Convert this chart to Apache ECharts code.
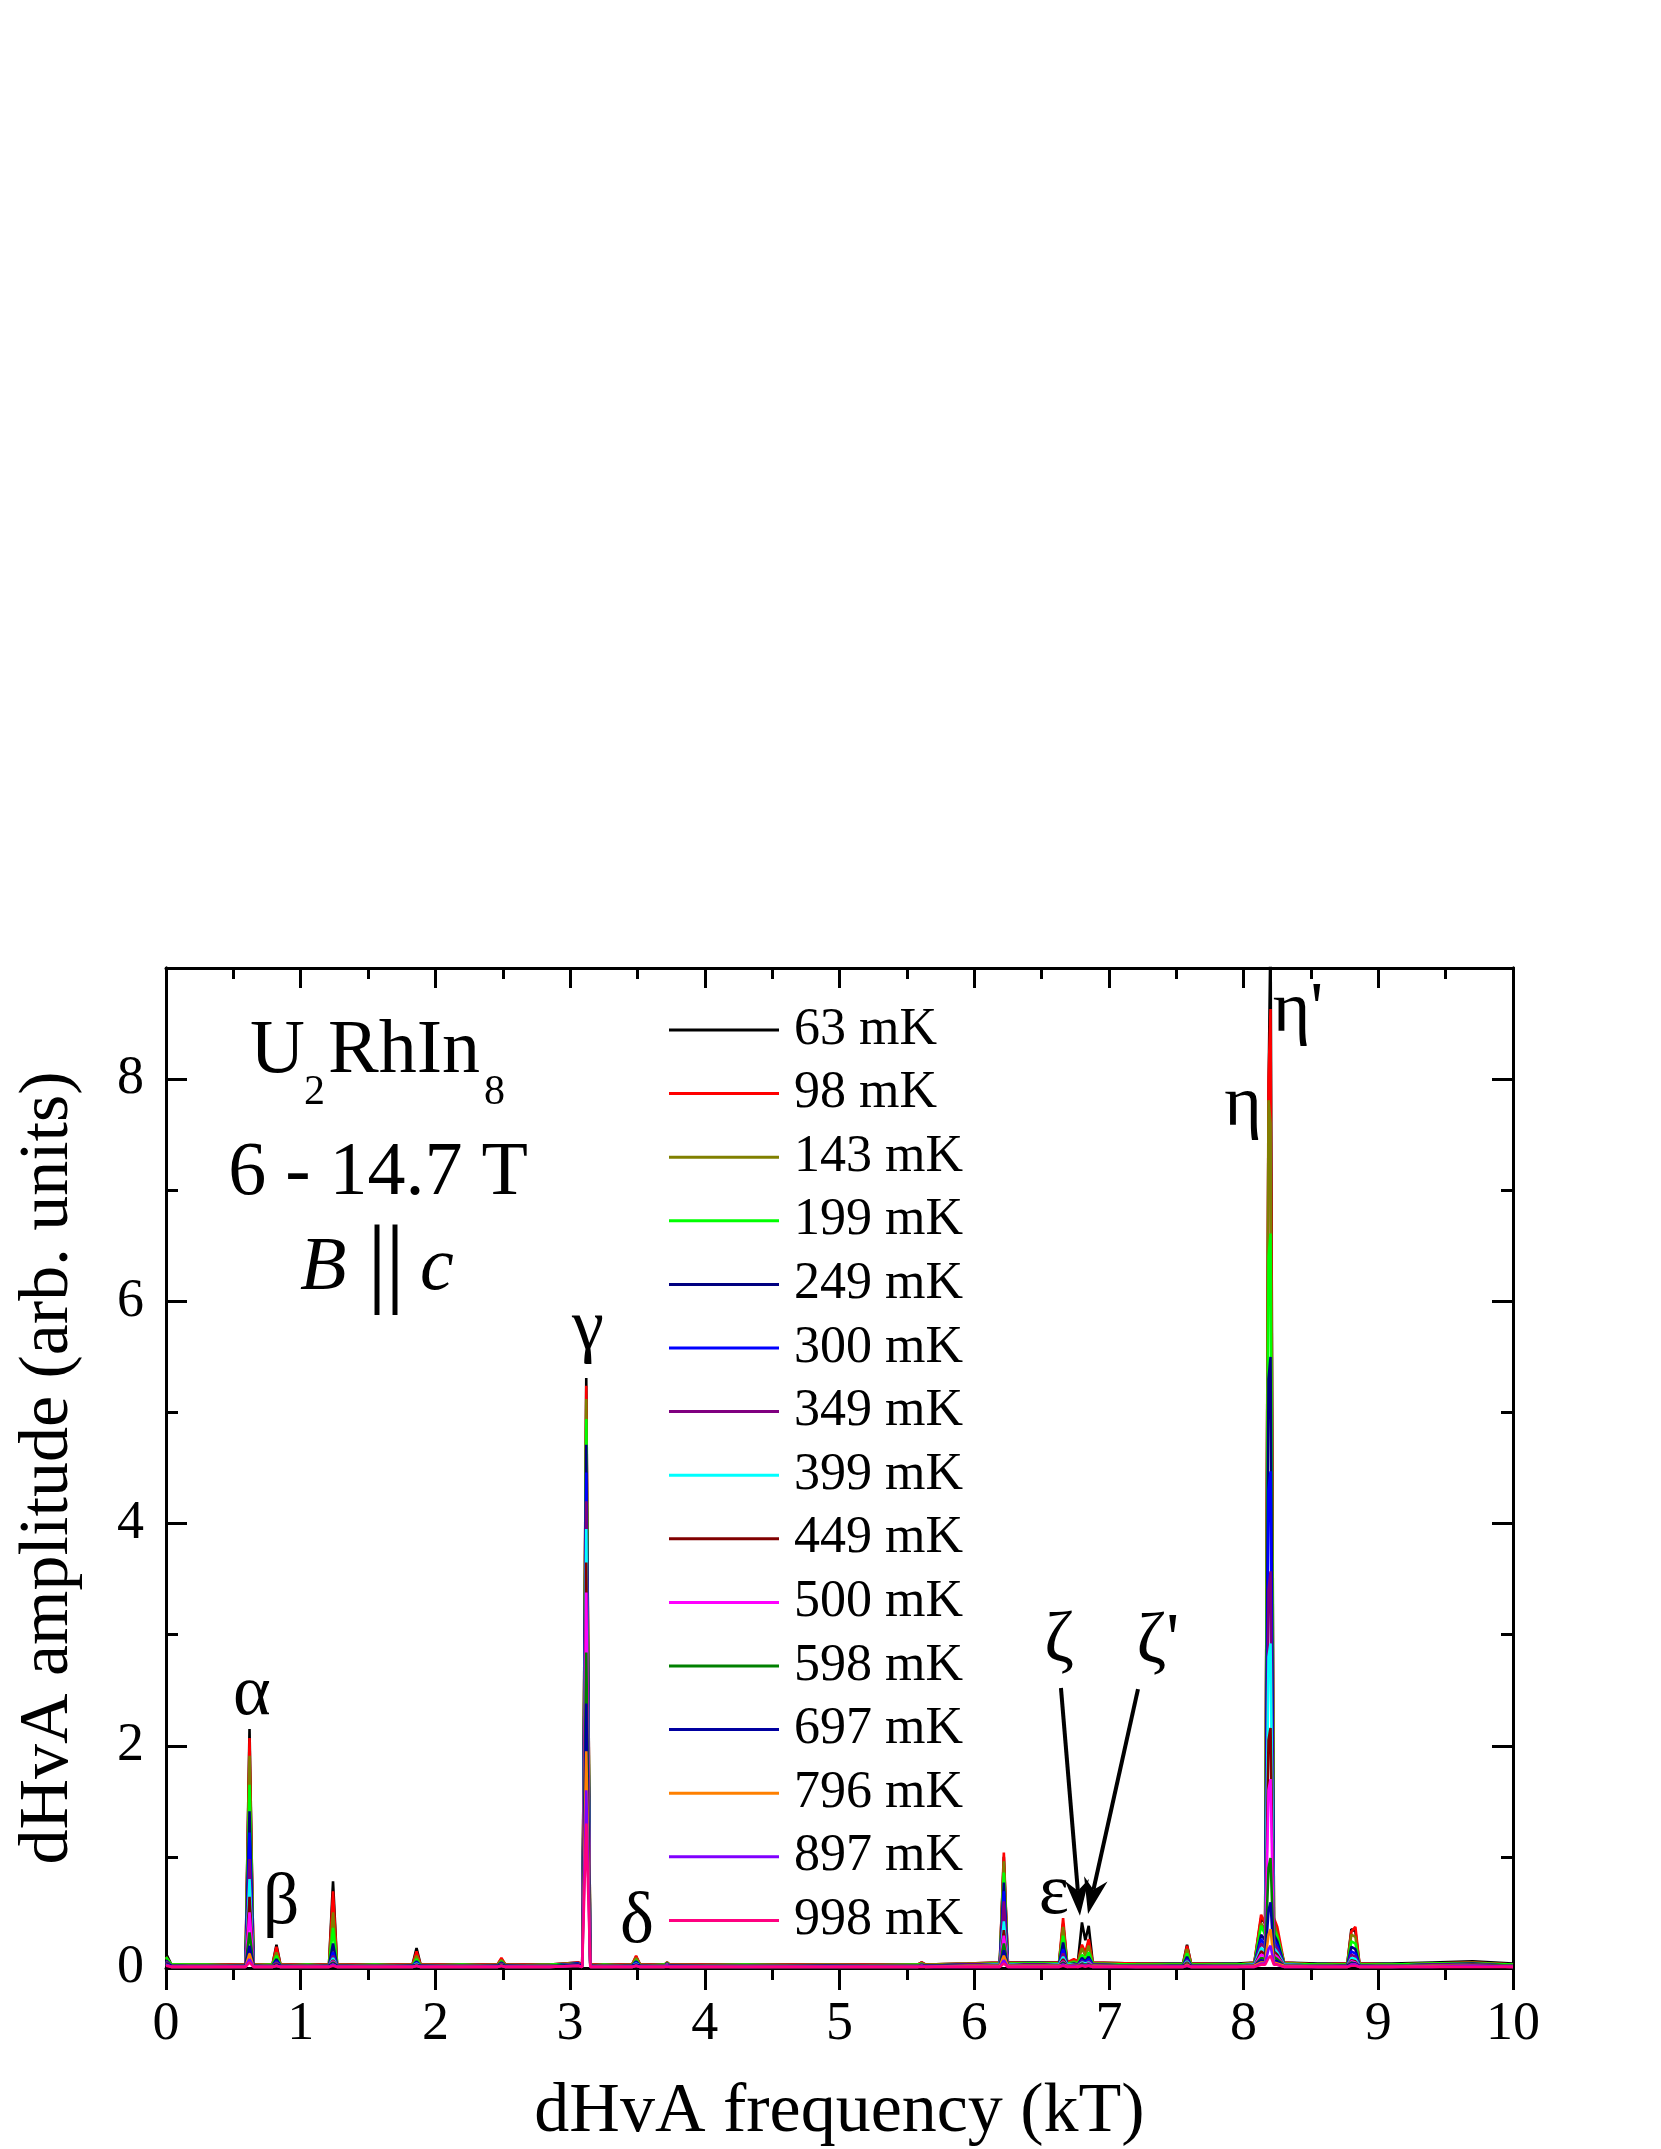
<!DOCTYPE html>
<html><head><meta charset="utf-8">
<script src="https://cdn.jsdelivr.net/npm/echarts@6/dist/echarts.min.js"></script>
<style>html,body{margin:0;padding:0;background:#fff}#c{width:1661px;height:2149px}</style>
</head><body><div id="c"></div>
<script>
// ---------- DATA ----------
const freq = [0.00,0.04,0.30,0.59,0.62,0.65,0.79,0.82,0.85,1.05,
 1.21,1.24,1.27,1.55,1.83,1.86,1.89,2.20,2.46,2.49,
 2.52,2.85,3.06,3.09,3.12,3.15,3.25,3.46,3.49,3.52,
 3.70,3.72,3.74,4.30,4.90,5.58,5.61,5.64,5.95,6.19,
 6.22,6.25,6.45,6.63,6.66,6.69,6.74,6.77,6.80,6.825,
 6.85,6.88,7.20,7.55,7.58,7.61,7.95,8.08,8.13,8.16,
 8.185,8.20,8.225,8.25,8.30,8.55,8.77,8.80,8.83,8.86,
 9.10,9.40,9.70,10.00];

const temps = ['63 mK','98 mK','143 mK','199 mK','249 mK','300 mK','349 mK','399 mK','449 mK','500 mK','598 mK','697 mK','796 mK','897 mK','998 mK'];

const amp63 = [0.13,0.03,0.03,0.03,2.15,0.03,0.03,0.21,0.03,0.03,
 0.03,0.78,0.03,0.03,0.03,0.18,0.03,0.03,0.03,0.08,
 0.03,0.03,0.05,0.03,5.31,0.03,0.03,0.03,0.10,0.03,
 0.03,0.05,0.03,0.03,0.03,0.03,0.05,0.03,0.04,0.05,
 1.00,0.05,0.05,0.05,0.40,0.05,0.07,0.06,0.41,0.25,
 0.38,0.05,0.04,0.04,0.21,0.04,0.04,0.05,0.45,0.40,
 7.85,9.40,0.40,0.30,0.05,0.04,0.04,0.35,0.33,0.04,
 0.04,0.05,0.06,0.04];
const amp98 = [0.10,0.03,0.03,0.03,2.07,0.03,0.03,0.19,0.03,0.03,
 0.03,0.69,0.03,0.03,0.03,0.15,0.03,0.03,0.03,0.09,
 0.03,0.03,0.05,0.03,5.24,0.03,0.03,0.03,0.11,0.03,
 0.03,0.05,0.03,0.03,0.03,0.03,0.05,0.03,0.04,0.05,
 1.04,0.05,0.04,0.05,0.45,0.05,0.08,0.06,0.21,0.14,
 0.26,0.05,0.04,0.03,0.20,0.04,0.03,0.05,0.48,0.40,
 8.00,8.63,0.45,0.37,0.05,0.03,0.04,0.33,0.37,0.04,
 0.03,0.04,0.05,0.03];
const amp143 = [0.09,0.03,0.02,0.03,1.91,0.03,0.03,0.14,0.03,0.02,
 0.03,0.50,0.03,0.02,0.03,0.11,0.03,0.02,0.03,0.07,
 0.03,0.02,0.04,0.03,5.12,0.03,0.02,0.03,0.09,0.03,
 0.02,0.05,0.03,0.02,0.03,0.02,0.04,0.03,0.04,0.04,
 0.96,0.04,0.04,0.04,0.37,0.04,0.06,0.05,0.18,0.11,
 0.20,0.04,0.03,0.03,0.17,0.03,0.03,0.04,0.40,0.35,
 7.81,7.60,0.40,0.30,0.04,0.03,0.03,0.30,0.28,0.03,
 0.03,0.04,0.05,0.03];
const amp199 = [0.10,0.03,0.03,0.02,1.65,0.02,0.03,0.11,0.02,0.03,
 0.02,0.36,0.02,0.03,0.02,0.08,0.02,0.03,0.02,0.06,
 0.02,0.03,0.04,0.02,4.94,0.02,0.03,0.02,0.07,0.02,
 0.03,0.04,0.02,0.03,0.02,0.03,0.04,0.02,0.03,0.04,
 0.86,0.04,0.04,0.04,0.29,0.04,0.05,0.04,0.12,0.08,
 0.14,0.04,0.03,0.03,0.13,0.03,0.03,0.04,0.38,0.30,
 6.40,6.61,0.35,0.28,0.04,0.03,0.03,0.24,0.22,0.03,
 0.03,0.04,0.04,0.03];
const amp249 = [0.07,0.02,0.02,0.02,1.41,0.02,0.02,0.08,0.02,0.02,
 0.02,0.22,0.02,0.02,0.02,0.06,0.02,0.02,0.02,0.05,
 0.02,0.02,0.04,0.02,4.71,0.02,0.02,0.02,0.06,0.02,
 0.02,0.04,0.02,0.02,0.02,0.02,0.03,0.02,0.03,0.03,
 0.77,0.03,0.03,0.03,0.23,0.03,0.04,0.03,0.09,0.06,
 0.10,0.03,0.02,0.02,0.10,0.02,0.02,0.03,0.30,0.25,
 5.30,5.50,0.30,0.24,0.03,0.02,0.02,0.19,0.17,0.02,
 0.02,0.03,0.04,0.02];
const amp300 = [0.06,0.02,0.02,0.02,1.22,0.02,0.02,0.06,0.02,0.02,
 0.02,0.14,0.02,0.02,0.02,0.05,0.02,0.02,0.02,0.04,
 0.02,0.02,0.04,0.02,4.46,0.02,0.02,0.02,0.05,0.02,
 0.02,0.03,0.02,0.02,0.02,0.02,0.03,0.02,0.03,0.03,
 0.69,0.03,0.03,0.03,0.17,0.03,0.03,0.03,0.07,0.05,
 0.08,0.03,0.02,0.02,0.08,0.02,0.02,0.03,0.26,0.20,
 4.30,4.47,0.26,0.20,0.03,0.02,0.02,0.15,0.13,0.02,
 0.02,0.03,0.03,0.02];
const amp349 = [0.06,0.02,0.02,0.02,0.98,0.02,0.02,0.05,0.02,0.02,
 0.02,0.11,0.02,0.02,0.02,0.04,0.02,0.02,0.02,0.04,
 0.02,0.02,0.03,0.02,4.20,0.02,0.02,0.02,0.04,0.02,
 0.02,0.03,0.02,0.02,0.02,0.02,0.03,0.02,0.03,0.03,
 0.60,0.03,0.03,0.03,0.13,0.03,0.03,0.03,0.06,0.04,
 0.06,0.03,0.02,0.02,0.07,0.02,0.02,0.03,0.22,0.18,
 3.40,3.57,0.22,0.17,0.03,0.02,0.02,0.12,0.10,0.02,
 0.02,0.03,0.03,0.02];
const amp399 = [0.05,0.02,0.02,0.02,0.80,0.02,0.02,0.04,0.02,0.02,
 0.02,0.09,0.02,0.02,0.02,0.04,0.02,0.02,0.02,0.03,
 0.02,0.02,0.03,0.02,3.95,0.02,0.02,0.02,0.04,0.02,
 0.02,0.03,0.02,0.02,0.02,0.02,0.03,0.02,0.02,0.03,
 0.42,0.03,0.02,0.03,0.10,0.03,0.03,0.02,0.05,0.04,
 0.05,0.02,0.02,0.02,0.06,0.02,0.02,0.03,0.18,0.15,
 2.80,2.92,0.18,0.14,0.03,0.02,0.02,0.09,0.08,0.02,
 0.02,0.02,0.03,0.02];
const amp449 = [0.05,0.02,0.02,0.02,0.64,0.02,0.02,0.04,0.02,0.02,
 0.02,0.07,0.02,0.02,0.02,0.03,0.02,0.02,0.02,0.03,
 0.02,0.02,0.03,0.02,3.65,0.02,0.02,0.02,0.03,0.02,
 0.02,0.03,0.02,0.02,0.02,0.02,0.03,0.02,0.02,0.02,
 0.34,0.02,0.02,0.02,0.08,0.02,0.03,0.02,0.04,0.03,
 0.04,0.02,0.02,0.02,0.05,0.02,0.02,0.02,0.15,0.12,
 2.05,2.16,0.15,0.12,0.02,0.02,0.02,0.07,0.06,0.02,
 0.02,0.02,0.03,0.02];
const amp500 = [0.04,0.02,0.02,0.02,0.50,0.02,0.02,0.03,0.02,0.02,
 0.02,0.06,0.02,0.02,0.02,0.03,0.02,0.02,0.02,0.03,
 0.02,0.02,0.03,0.02,3.38,0.02,0.02,0.02,0.03,0.02,
 0.02,0.03,0.02,0.02,0.02,0.02,0.02,0.02,0.02,0.02,
 0.29,0.02,0.02,0.02,0.06,0.02,0.02,0.02,0.03,0.03,
 0.04,0.02,0.02,0.02,0.04,0.02,0.02,0.02,0.12,0.10,
 1.60,1.70,0.12,0.10,0.02,0.02,0.02,0.06,0.05,0.02,
 0.02,0.02,0.02,0.02];
const amp598 = [0.04,0.02,0.02,0.02,0.32,0.02,0.02,0.03,0.02,0.02,
 0.02,0.05,0.02,0.02,0.02,0.03,0.02,0.02,0.02,0.03,
 0.02,0.02,0.03,0.02,2.84,0.02,0.02,0.02,0.03,0.02,
 0.02,0.02,0.02,0.02,0.02,0.02,0.02,0.02,0.02,0.02,
 0.22,0.02,0.02,0.02,0.05,0.02,0.02,0.02,0.03,0.03,
 0.03,0.02,0.02,0.02,0.04,0.02,0.02,0.02,0.09,0.08,
 0.90,0.99,0.10,0.08,0.02,0.02,0.02,0.05,0.04,0.02,
 0.02,0.02,0.02,0.02];
const amp697 = [0.04,0.02,0.01,0.02,0.20,0.02,0.01,0.03,0.02,0.01,
 0.02,0.04,0.02,0.01,0.02,0.02,0.02,0.01,0.02,0.02,
 0.02,0.01,0.03,0.02,2.38,0.02,0.01,0.02,0.03,0.02,
 0.01,0.02,0.02,0.01,0.02,0.01,0.02,0.02,0.02,0.02,
 0.16,0.02,0.02,0.02,0.04,0.02,0.02,0.02,0.03,0.02,
 0.03,0.02,0.01,0.02,0.03,0.02,0.01,0.02,0.07,0.06,
 0.52,0.59,0.07,0.06,0.02,0.01,0.02,0.04,0.04,0.02,
 0.01,0.02,0.02,0.01];
const amp796 = [0.03,0.01,0.01,0.01,0.13,0.01,0.01,0.02,0.01,0.01,
 0.01,0.03,0.01,0.01,0.01,0.02,0.01,0.01,0.01,0.02,
 0.01,0.01,0.02,0.01,1.95,0.01,0.01,0.01,0.02,0.01,
 0.01,0.02,0.01,0.01,0.01,0.01,0.02,0.01,0.02,0.02,
 0.11,0.02,0.02,0.02,0.03,0.02,0.02,0.02,0.02,0.02,
 0.02,0.02,0.01,0.01,0.03,0.01,0.01,0.02,0.05,0.05,
 0.30,0.35,0.05,0.04,0.02,0.01,0.01,0.03,0.03,0.01,
 0.01,0.02,0.02,0.01];
const amp897 = [0.03,0.01,0.01,0.01,0.08,0.01,0.01,0.02,0.01,0.01,
 0.01,0.03,0.01,0.01,0.01,0.02,0.01,0.01,0.01,0.02,
 0.01,0.01,0.02,0.01,1.60,0.01,0.01,0.01,0.02,0.01,
 0.01,0.02,0.01,0.01,0.01,0.01,0.02,0.01,0.01,0.01,
 0.07,0.01,0.01,0.01,0.03,0.01,0.02,0.01,0.02,0.02,
 0.02,0.01,0.01,0.01,0.02,0.01,0.01,0.01,0.04,0.04,
 0.17,0.20,0.04,0.03,0.01,0.01,0.01,0.03,0.03,0.01,
 0.01,0.01,0.02,0.01];
const amp998 = [0.02,0.01,0.01,0.01,0.05,0.01,0.01,0.02,0.01,0.01,
 0.01,0.02,0.01,0.01,0.01,0.02,0.01,0.01,0.01,0.02,
 0.01,0.01,0.02,0.01,1.30,0.01,0.01,0.01,0.02,0.01,
 0.01,0.01,0.01,0.01,0.01,0.01,0.01,0.01,0.01,0.01,
 0.04,0.01,0.01,0.01,0.02,0.01,0.01,0.01,0.02,0.01,
 0.02,0.01,0.01,0.01,0.02,0.01,0.01,0.01,0.03,0.03,
 0.09,0.11,0.03,0.03,0.01,0.01,0.01,0.02,0.02,0.01,
 0.01,0.01,0.01,0.01];

const xTicks = [0,1,2,3,4,5,6,7,8,9,10];
const yTicks = [0,2,4,6,8];

// peak labels (text, frequency kT, amplitude)
const peakLabels = [
  ['α',0.638,2.46],['β',0.854,0.575],['γ',3.133,5.74],['δ',3.497,0.404],
  ['ε',6.592,0.665],['ζ',6.630,2.93],["ζ'",7.364,2.92],['η',7.996,7.76],["η'",8.404,8.60]
];
// arrows from ζ, ζ' labels to the peaks: [from kT, from amp, to kT, to amp]
const arrows = [[6.644,2.52,6.785,0.47],[7.216,2.51,6.845,0.485]];

// ---------- STYLE ----------
const colors = ['#000000','#FF0000','#808000','#00FF00','#000080','#0000FF','#800080','#00FFFF','#800000','#FF00FF','#008000','#0000A0','#FF8000','#8000FF','#FF0080'];
const amps = [amp63,amp98,amp143,amp199,amp249,amp300,amp349,amp399,amp449,amp500,amp598,amp697,amp796,amp897,amp998];
const FF = 'Liberation Serif';

const chart = echarts.init(document.getElementById('c'), null, {renderer:'canvas'});

const series = amps.map((a, k) => ({
  name: temps[k], type: 'line', xAxisIndex: 0, yAxisIndex: 0,
  data: freq.map((f, i) => [f, a[i]]),
  showSymbol: false, symbol: 'none', clip: true,
  lineStyle: {width: 2.6, color: colors[k]}, itemStyle: {color: colors[k]},
  emphasis: {disabled: true}
}));

const axisLineStyle = {show: true, onZero: false, lineStyle: {color: '#000', width: 3}};
const tickStyle = {color: '#000', width: 3};

const option = {
  animation: false,
  backgroundColor: '#fff',
  grid: {left: 166, right: 148, top: 968, bottom: 180, show: false},
  xAxis: [
    {type: 'value', min: 0, max: 10, interval: 1, position: 'bottom',
     axisLine: axisLineStyle,
     axisTick: {show: true, inside: false, length: 22, lineStyle: tickStyle},
     minorTick: {show: true, splitNumber: 2, length: 12, lineStyle: tickStyle},
     axisLabel: {fontSize: 54, fontFamily: FF, color: '#000', margin: 30,
       formatter: v => xTicks.includes(v) ? String(v) : ''},
     splitLine: {show: false}, minorSplitLine: {show: false},
     name: 'dHvA frequency (kT)', nameLocation: 'middle', nameGap: 110,
     nameTextStyle: {fontSize: 70, fontFamily: FF, color: '#000'}},
    {type: 'value', min: 0, max: 10, interval: 1, position: 'top',
     axisLine: axisLineStyle,
     axisTick: {show: true, inside: true, length: 20, lineStyle: tickStyle},
     minorTick: {show: true, splitNumber: 2, length: 11, lineStyle: tickStyle},
     axisLabel: {show: false}, splitLine: {show: false}}
  ],
  yAxis: [
    {type: 'value', min: 0, max: 9, interval: 2, position: 'left',
     axisLine: axisLineStyle,
     axisTick: {show: true, inside: true, length: 21, lineStyle: tickStyle},
     axisLabel: {fontSize: 54, fontFamily: FF, color: '#000', margin: 22, showMaxLabel: false,
       formatter: v => yTicks.includes(v) ? String(v) : ''},
     splitLine: {show: false},
     name: 'dHvA amplitude (arb. units)', nameLocation: 'middle', nameGap: 82,
     nameTextStyle: {fontSize: 70, fontFamily: FF, color: '#000'}},
    {type: 'value', min: 0, max: 9, interval: 1, position: 'left',
     axisLine: axisLineStyle,
     axisTick: {show: true, inside: true, length: 12, lineStyle: tickStyle},
     axisLabel: {show: false}, splitLine: {show: false}},
    {type: 'value', min: 0, max: 9, interval: 2, position: 'right',
     axisLine: axisLineStyle,
     axisTick: {show: true, inside: true, length: 21, lineStyle: tickStyle},
     axisLabel: {show: false}, splitLine: {show: false}},
    {type: 'value', min: 0, max: 9, interval: 1, position: 'right',
     axisLine: axisLineStyle,
     axisTick: {show: true, inside: true, length: 12, lineStyle: tickStyle},
     axisLabel: {show: false}, splitLine: {show: false}}
  ],
  legend: {
    orient: 'vertical', left: 664, top: 999,
    itemWidth: 110, itemHeight: 3, itemGap: 11.6, icon: 'rect',
    selectedMode: false, data: temps,
    textStyle: {fontSize: 52, fontFamily: FF, color: '#000', lineHeight: 50, padding: [0, 0, 0, 10]}
  },
  series: series
};
chart.setOption(option);

// ---------- annotations ----------
const toPx = (x, y) => chart.convertToPixel({gridIndex: 0}, [x, y]);
const g = [];
const txt = (text, x, y, size, align, italic) => ({
  type: 'text', x: x, y: y, silent: true, z: 100,
  style: {text: text, fontSize: size, fontFamily: FF, fill: '#000',
    fontStyle: italic ? 'italic' : 'normal', align: align, verticalAlign: 'middle'}
});
// sample block
g.push(txt('U', 250, 1052, 76, 'left'));
g.push(txt('2', 304, 1093, 42, 'left'));
g.push(txt('RhIn', 328, 1052, 76, 'left'));
g.push(txt('8', 484, 1093, 42, 'left'));
g.push(txt('6 - 14.7 T', 378, 1174, 76, 'center'));
g.push(txt('B', 300, 1269, 76, 'left', true));
g.push(txt('|', 377, 1268, 100, 'center'));
g.push(txt('|', 395, 1268, 100, 'center'));
g.push(txt('c', 420, 1269, 76, 'left', true));
// peak labels
peakLabels.forEach(([t, x, y]) => { const p = toPx(x, y); g.push(txt(t, p[0], p[1], 72, 'center')); });
// arrows
arrows.forEach(([x0, y0, x1, y1]) => {
  const a = toPx(x0, y0), b = toPx(x1, y1);
  const dx = b[0] - a[0], dy = b[1] - a[1], L = Math.hypot(dx, dy);
  const ux = dx / L, uy = dy / L, px = -uy, py = ux;
  const hl = 36, hw = 12, nt = 25;
  g.push({type: 'line', silent: true, z: 100,
    shape: {x1: a[0], y1: a[1], x2: b[0] - ux * nt, y2: b[1] - uy * nt},
    style: {stroke: '#000', lineWidth: 4}});
  g.push({type: 'polygon', silent: true, z: 100,
    shape: {points: [[b[0], b[1]],
      [b[0] - ux * hl + px * hw, b[1] - uy * hl + py * hw],
      [b[0] - ux * nt, b[1] - uy * nt],
      [b[0] - ux * hl - px * hw, b[1] - uy * hl - py * hw]]},
    style: {fill: '#000'}});
});
chart.setOption({graphic: {elements: g}});
</script>
</body></html>
